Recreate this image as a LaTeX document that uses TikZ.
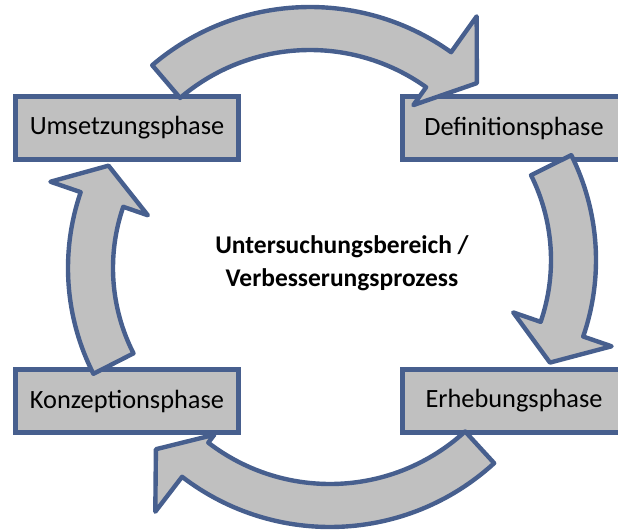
\documentclass[tikz,border=0pt]{standalone}
\usepackage{fontspec}
\setmainfont{Carlito}
\usetikzlibrary{calc}
\definecolor{cycblue}{HTML}{475F8E}
\definecolor{cycgray}{HTML}{C0C0C0}
\tikzset{
  cyc/.style={font=\fontsize{15}{18}\selectfont, text=black},
  cycbox/.style={draw=cycblue, fill=cycgray, line width=2.6pt,
    minimum width=4.46cm, minimum height=1.26cm, inner sep=0pt},
  cycarr/.style={draw=cycblue, fill=cycgray, line width=2.5pt, line join=round},
  cyclbl/.style={font=\fontsize{14.5}{18.5}\selectfont\bfseries, align=center},
}
% curved block arrow: #1 centre, #2/#3 inner/outer radius, #4 tail angle,
% #5 head angle, #6/#7 tip angle and radius, #8/#9 inner/outer barb radius
\newcommand{\cycarrow}[9]{%
  \draw[cycarr] ($(#1)+(#4:#3)$) arc[start angle=#4, end angle=#5, radius=#3]
    -- ($(#1)+(#5:#9)$) -- ($(#1)+(#6:#7)$) -- ($(#1)+(#5:#8)$)
    -- ($(#1)+(#5:#2)$) arc[start angle=#5, end angle=#4, radius=#2] -- cycle;}

\begin{document}
\begin{tikzpicture}[cyc, x=0.02cm, y=0.02cm]
  \useasboundingbox (0,0) rectangle (618,529);
  \clip (0,0) rectangle (618,529);

  % the four phases
  \node[cycbox] (umsetzung) at (127,401) {Umsetzungsphase};
  \node[cycbox] (definition) at (514,401) {Definitionsphase};
  \node[cycbox] (konzeption) at (127,128) {Konzeptionsphase};
  \node[cycbox] (erhebung) at (514,128) {Erhebungsphase};

  % centres of the arrow arcs
  \coordinate (topc) at (310,279);
  \coordinate (rightc) at (361,269);
  \coordinate (botc) at (330,245);
  \coordinate (leftc) at (301,261);

  \cycarrow{topc}{200}{243}{130.5}{54.5}{45}{236}{178}{287}
  \cycarrow{rightc}{190}{235}{26.5}{-19}{-28.5}{215}{161}{265}
  \cycarrow{botc}{200}{243}{-47.5}{-127.5}{-136.5}{240}{190}{287}
  \cycarrow{leftc}{188}{233}{207}{161}{152}{218}{162}{265}

  \node[cyclbl] (bereich) at (342,266) {Untersuchungsbereich /\\Verbesserungsprozess};
\end{tikzpicture}
\end{document}
